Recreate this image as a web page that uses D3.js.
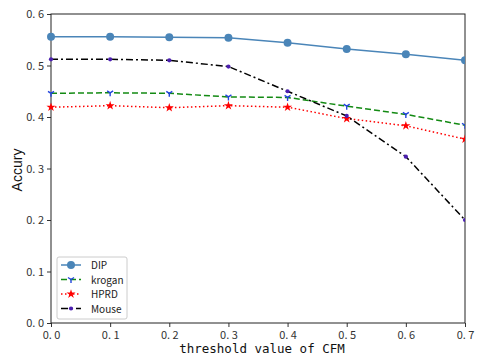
<!DOCTYPE html>
<html>
<head>
<meta charset="utf-8">
<script src="https://cdn.jsdelivr.net/npm/d3@7"></script>
<style>
  body { margin: 0; background: #fff; }
</style>
</head>
<body>
<svg width="483" height="356"></svg>
<script>
let thresholds = [0.0, 0.1, 0.2, 0.3, 0.4, 0.5, 0.6, 0.7]
let dip = [0.556, 0.556, 0.555, 0.554, 0.544, 0.532, 0.522, 0.510]
let krogan = [0.446, 0.447, 0.446, 0.439, 0.438, 0.421, 0.405, 0.384]
let hprd = [0.419, 0.422, 0.418, 0.422, 0.419, 0.397, 0.383, 0.357]
let mouse = [0.512, 0.512, 0.510, 0.498, 0.450, 0.402, 0.323, 0.200]
let xTicks = [0, 0.1, 0.2, 0.3, 0.4, 0.5, 0.6, 0.7]
let yTicks = [0, 0.1, 0.2, 0.3, 0.4, 0.5, 0.6]

let width = 483
let height = 356
let margin = { top: 14, bottom: 33, left: 51, right: 18 }
let tickFont = '"Noto Sans CJK SC", sans-serif'

let series = [
  { name: 'DIP', values: dip, color: '#4a85b8', dash: null, marker: 'circle', mcolor: '#4a85b8' },
  { name: 'krogan', values: krogan, color: '#138a13', dash: '6,3', marker: 'tri', mcolor: '#2244dd' },
  { name: 'HPRD', values: hprd, color: '#ff0000', dash: '1.5,2.5', marker: 'star', mcolor: '#ff0000' },
  { name: 'Mouse', values: mouse, color: '#000000', dash: '7,3,2,3', marker: 'dot', mcolor: '#4b1fb0' }
]

let xScale = d3.scaleLinear()
  .domain([0, 0.7])
  .range([margin.left, width - margin.right])

let yScale = d3.scaleLinear()
  .domain([0, 0.6])
  .range([height - margin.bottom, margin.top])

let svg = d3.select('svg')

let fmt = d => d3.format('.1f')(d).replace('.', '. ')

let xAxis = d3.axisBottom(xScale).tickValues(xTicks).tickFormat(fmt).tickSize(4).tickSizeOuter(0)
let yAxis = d3.axisLeft(yScale).tickValues(yTicks).tickFormat(fmt).tickSize(4).tickSizeOuter(0)

let gx = svg.append('g')
  .attr('transform', 'translate(' + [0, height - margin.bottom] + ')')
  .call(xAxis)
let gy = svg.append('g')
  .attr('transform', 'translate(' + [margin.left, 0] + ')')
  .call(yAxis)

for (let g of [gx, gy]) {
  g.attr('font-family', tickFont)
  g.select('.domain').remove()
  g.selectAll('line').attr('stroke', '#333')
  g.selectAll('text').attr('font-size', 11).attr('fill', '#333')
}
gx.selectAll('text').attr('dy', '0.85em')

// frame
svg.append('rect')
  .attr('x', margin.left)
  .attr('y', margin.top)
  .attr('width', width - margin.left - margin.right)
  .attr('height', height - margin.top - margin.bottom)
  .attr('fill', 'none')
  .attr('stroke', '#222')
  .attr('stroke-width', 1)

let clip = svg.append('clipPath').attr('id', 'clip')
clip.append('rect')
  .attr('x', margin.left - 6)
  .attr('y', margin.top - 6)
  .attr('width', width - margin.left - margin.right + 6)
  .attr('height', height - margin.top - margin.bottom + 12)

let line = d3.line()
  .x((d, i) => xScale(thresholds[i]))
  .y(d => yScale(d))

let symbolFor = m => {
  if (m === 'circle') return d3.symbol(d3.symbolCircle, 50)()
  if (m === 'star') return d3.symbol(d3.symbolStar, 26)()
  if (m === 'dot') return d3.symbol(d3.symbolCircle, 14)()
  return null
}

let drawMarker = (g, s, x, y) => {
  if (s.marker === 'tri') {
    // tri_down: three spokes from centre
    g.append('path')
      .attr('d', 'M' + x + ',' + y + 'L' + x + ',' + (y + 3.5) +
        'M' + x + ',' + y + 'L' + (x - 3) + ',' + (y - 2) +
        'M' + x + ',' + y + 'L' + (x + 3) + ',' + (y - 2))
      .attr('stroke', s.mcolor)
      .attr('stroke-width', 1.4)
      .attr('fill', 'none')
  } else {
    g.append('path')
      .attr('d', symbolFor(s.marker))
      .attr('transform', 'translate(' + [x, y] + ')')
      .attr('fill', s.mcolor)
  }
}

let plot = svg.append('g').attr('clip-path', 'url(#clip)')
for (let s of series) {
  plot.append('path')
    .attr('d', line(s.values))
    .attr('fill', 'none')
    .attr('stroke', s.color)
    .attr('stroke-width', 1.5)
    .attr('stroke-dasharray', s.dash)
  s.values.forEach((v, i) => drawMarker(plot, s, xScale(thresholds[i]), yScale(v)))
}

// legend
let lg = svg.append('g').attr('transform', 'translate(57,257)')
lg.append('rect')
  .attr('width', 70)
  .attr('height', 62)
  .attr('rx', 2)
  .attr('fill', '#fff')
  .attr('stroke', '#ccc')
series.forEach((s, i) => {
  let y = 8 + i * 14.5
  lg.append('line')
    .attr('x1', 4).attr('x2', 24).attr('y1', y).attr('y2', y)
    .attr('stroke', s.color)
    .attr('stroke-width', 1.5)
    .attr('stroke-dasharray', s.dash)
  drawMarker(lg, s, 14, y)
  lg.append('text')
    .attr('x', 34).attr('y', y + 4)
    .attr('font-size', 10)
    .attr('font-family', tickFont)
    .attr('fill', '#222')
    .text(s.name)
})

svg.append('text')
  .attr('x', 262)
  .attr('y', 353)
  .attr('text-anchor', 'middle')
  .attr('font-size', 12.5)
  .attr('font-family', '"DejaVu Sans Mono", monospace')
  .attr('fill', '#111')
  .text('threshold value of CFM')

svg.append('text')
  .attr('transform', 'translate(' + [22, 170] + ') rotate(-90)')
  .attr('text-anchor', 'middle')
  .attr('font-size', 14)
  .attr('font-family', '"Liberation Sans", Arial, sans-serif')
  .attr('fill', '#111')
  .text('Accury')
</script>
</body>
</html>
